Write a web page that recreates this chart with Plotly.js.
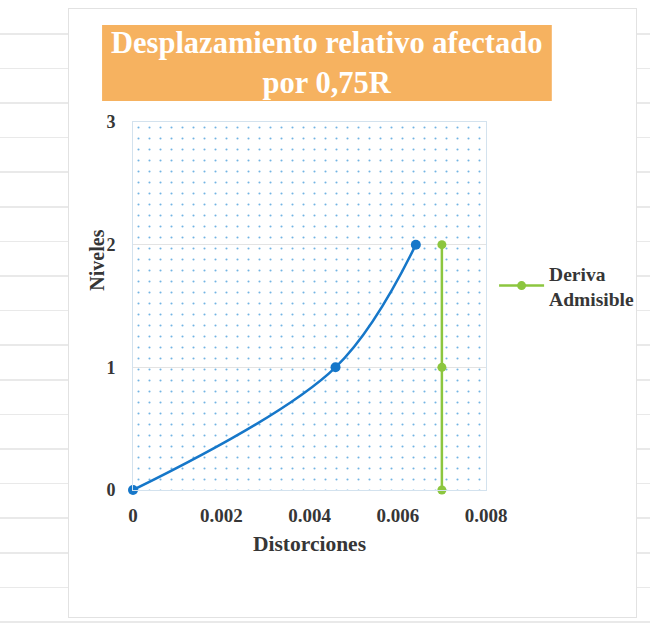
<!DOCTYPE html>
<html>
<head>
<meta charset="utf-8">
<script src="https://cdn.plot.ly/plotly-3.0.1.min.js"></script>
<style>
  html, body { margin: 0; padding: 0; }
  body {
    width: 650px; height: 640px; position: relative; overflow: hidden;
    background-color: #ffffff;
    background-image: repeating-linear-gradient(to bottom, transparent 0px, transparent 33px, #e9e9e9 33px, #e9e9e9 34.6px);
  }
  #sheet {
    position: absolute; left: 68px; top: 8px; width: 569px; height: 610px;
    background: #ffffff; border: 1px solid #e2e2e2; box-sizing: border-box;
  }
  #chart { position: absolute; left: 0; top: 0; width: 650px; height: 640px; }
</style>
</head>
<body>
<div id="sheet"></div>
<div id="chart"></div>
<script>
// ---- data ----
const niveles = [0, 1, 2];
const distorciones = [0, 0.00459, 0.00641];
const derivaAdmisible = [0.007, 0.007, 0.007];
const xRange = [0, 0.008];
const yRange = [0, 3];
const xTicks = [0, 0.002, 0.004, 0.006, 0.008];
const yTicks = [0, 1, 2, 3];
const tituloTexto = 'Desplazamiento relativo afectado<br>por 0,75R';
const ejeX = 'Distorciones';
const ejeY = 'Niveles';
const serieLegend = 'Deriva<br>Admisible';

const serif = 'Liberation Serif, Times New Roman, serif';
const txt = '#363636';

// dotted background covering the axis range
const bgTrace = {
  x: [xRange[0], xRange[1], xRange[1], xRange[0], xRange[0]],
  y: [yRange[0], yRange[0], yRange[1], yRange[1], yRange[0]],
  mode: 'none', fill: 'toself', fillcolor: 'rgba(0,0,0,0)',
  fillpattern: { shape: '.', fgcolor: '#72b4e3', bgcolor: 'rgba(0,0,0,0)', size: 11, solidity: 0.03, fillmode: 'replace' },
  hoverinfo: 'skip', showlegend: false
};

const blue = {
  x: distorciones, y: niveles, mode: 'lines+markers', name: 'Distorsión',
  line: { color: '#1677c9', width: 2.5, shape: 'spline', smoothing: 1 },
  marker: { color: '#1677c9', size: 10 },
  showlegend: false, cliponaxis: false
};

const green = {
  x: derivaAdmisible, y: niveles, mode: 'lines+markers', name: serieLegend,
  line: { color: '#8cc63f', width: 2.5 },
  marker: { color: '#8cc63f', size: 9 },
  cliponaxis: false
};

const layout = {
  width: 650, height: 640,
  paper_bgcolor: 'rgba(0,0,0,0)', plot_bgcolor: '#ffffff',
  margin: { l: 133, r: 163, t: 122, b: 150 },
  showlegend: true,
  legend: {
    x: 1.02, y: 0.555, xanchor: 'left', yanchor: 'middle',
    font: { family: serif, size: 19.5, color: txt, weight: 'bold' },
    bgcolor: 'rgba(0,0,0,0)', itemwidth: 45
  },
  xaxis: {
    range: xRange, tickvals: xTicks, ticktext: xTicks.map(v => String(v)),
    showgrid: false, zeroline: false,
    showline: true, linecolor: '#d3e2ee', linewidth: 1, mirror: true,
    ticks: '', ticklabelstandoff: 8,
    tickfont: { family: serif, size: 19, color: txt, weight: 'bold' },
    title: { text: ejeX, font: { family: serif, size: 21.5, color: txt, weight: 'bold' }, standoff: 11 }
  },
  yaxis: {
    range: yRange, tickvals: yTicks,
    showgrid: true, gridcolor: '#e3e3e3', zeroline: false,
    showline: true, linecolor: '#d3e2ee', linewidth: 1, mirror: true,
    ticks: '', ticklabelstandoff: 13,
    tickfont: { family: serif, size: 18, color: txt, weight: 'bold' }
  },
  shapes: [{
    type: 'rect', xref: 'paper', yref: 'paper',
    x0: -0.0876, x1: 1.1864, y0: 1.057, y1: 1.2636,
    fillcolor: '#f6b260', line: { width: 0 }, layer: 'below'
  }],
  annotations: [
    {
      text: tituloTexto, xref: 'paper', yref: 'paper', x: 0.549, y: 1.16,
      xanchor: 'center', yanchor: 'middle', showarrow: false,
      font: { family: serif, size: 30.5, color: '#ffffff', weight: 'bold' }
    },
    {
      text: ejeY, xref: 'paper', yref: 'paper', x: -0.103, y: 0.625,
      xanchor: 'center', yanchor: 'middle', showarrow: false, textangle: -90,
      font: { family: serif, size: 20, color: txt, weight: 'bold' }
    }
  ]
};

Plotly.newPlot('chart', [bgTrace, blue, green], layout, { displayModeBar: false, staticPlot: true });
</script>
</body>
</html>
